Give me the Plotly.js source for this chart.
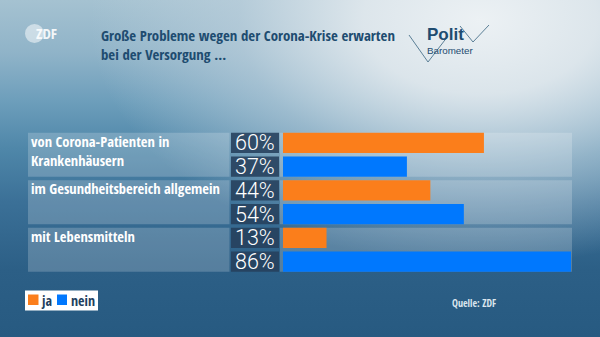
<!DOCTYPE html>
<html>
<head>
<meta charset="utf-8">
<script src="https://cdn.plot.ly/plotly-3.0.1.min.js"></script>
<style>
  html, body { margin: 0; padding: 0; }
  body {
    width: 600px; height: 337px; overflow: hidden;
    background:
      radial-gradient(ellipse 390px 245px at 80% 6%, rgba(236,241,244,1) 0%, rgba(224,232,237,0.95) 30%, rgba(192,210,222,0.6) 62%, rgba(150,185,205,0) 100%),
      linear-gradient(180deg, #a5c2d1 0%, #8fb3c8 16%, #6d9ebb 30%, #4f87a9 44%, #3b7097 60%, #2c5f86 80%, #275a81 100%);
  }
  #chart { width: 600px; height: 337px; }
</style>
</head>
<body>
<div id="chart"></div>
<script>
// ---- data ----
const items = ["von Corona-Patienten in<br>Krankenhäusern", "im Gesundheitsbereich allgemein", "mit Lebensmitteln"];
const seriesNames = ["ja", "nein"];
const ja = [60, 44, 13];
const nein = [37, 54, 86];
const titleText = "Große Probleme wegen der Corona-Krise erwarten<br>bei der Versorgung ...";
const sourceText = "Quelle: ZDF";

// ---- styling ----
const W = 600, H = 337;
const orange = "#fb7e1b", blue = "#0078fe";
const condensed = "'Open Sans Condensed', 'Roboto Condensed', sans-serif";
const px = x => x / W;
const py = y => 1 - y / H;

const rowKeys = [];
items.forEach(it => { rowKeys.push(it + " | ja"); rowKeys.push(it + " | nein"); });

const barW = 0.86;
const traces = [
  { type: "bar", orientation: "h", name: seriesNames[0], x: ja, y: items.map(it => it + " | ja"),
    marker: { color: orange }, width: barW, hoverinfo: "x+name" },
  { type: "bar", orientation: "h", name: seriesNames[1], x: nein, y: items.map(it => it + " | nein"),
    marker: { color: blue }, width: barW, hoverinfo: "x+name" }
];

const shapes = [];
const annotations = [];
const half = barW / 2;

items.forEach((it, i) => {
  const top = 2 * i - half, bot = 2 * i + 1 + half;
  shapes.push({ type: "rect", xref: "paper", yref: "y", x0: px(28), x1: px(229.5), y0: top, y1: bot,
    fillcolor: "rgba(255,255,255,0.2)", line: { width: 0 }, layer: "below" });
  shapes.push({ type: "rect", xref: "paper", yref: "y", x0: px(280), x1: px(572), y0: top, y1: bot,
    fillcolor: "rgba(255,255,255,0.2)", line: { width: 0 }, layer: "below" });
  annotations.push({ xref: "paper", yref: "y", x: px(30), y: top, xanchor: "left", yanchor: "top",
    yshift: 2, borderpad: 0, align: "left", showarrow: false, text: it,
    font: { family: condensed, size: 14.5, color: "#ffffff", weight: 700 } });
  [[ja[i], 2 * i], [nein[i], 2 * i + 1]].forEach(([v, r]) => {
    shapes.push({ type: "rect", xref: "paper", yref: "y", x0: px(231), x1: px(279), y0: r - half, y1: r + half,
      fillcolor: "rgba(38,64,92,0.88)", line: { width: 0 }, layer: "below" });
    annotations.push({ xref: "paper", yref: "y", x: px(254.5), y: r, xanchor: "center", yanchor: "middle",
      showarrow: false, text: v + "%",
      font: { family: "Roboto, 'Liberation Sans', sans-serif", size: 21.5, color: "#ffffff", weight: 300 } });
  });
});

// title
annotations.push({ xref: "paper", yref: "paper", x: px(99), y: py(22.5), xanchor: "left", yanchor: "top",
  align: "left", showarrow: false, text: titleText,
  font: { family: condensed, size: 14.8, color: "#1e4c70", weight: 700 } });

// ZDF logo
shapes.push({ type: "circle", xref: "paper", yref: "paper", x0: px(25), x1: px(44), y0: py(43), y1: py(24),
  fillcolor: "rgba(255,255,255,0.5)", line: { width: 0 } });
annotations.push({ xref: "paper", yref: "paper", x: px(34), y: py(33), xanchor: "left", yanchor: "middle",
  showarrow: false, text: "ZDF", font: { family: condensed, size: 15, color: "rgba(255,255,255,0.9)", weight: 700 } });

// Polit Barometer logo
const pathPts = (pts) => "M" + pts.map(p => px(p[0]) + "," + py(p[1])).join(" L");
shapes.push({ type: "path", xref: "paper", yref: "paper", path: pathPts([[409, 35], [428, 62], [448, 36]]),
  line: { color: "#5b7f96", width: 1 } });
shapes.push({ type: "path", xref: "paper", yref: "paper", path: pathPts([[460, 26], [473, 42], [489, 25]]),
  line: { color: "#5b7f96", width: 1 } });
annotations.push({ xref: "paper", yref: "paper", x: px(426), y: py(34), xanchor: "left", yanchor: "middle",
  borderpad: 0, showarrow: false, text: "Polit", font: { family: "'Liberation Sans', Arial, sans-serif", size: 17, color: "#1e4c70", weight: 700 } });
annotations.push({ xref: "paper", yref: "paper", x: px(426), y: py(50.5), xanchor: "left", yanchor: "middle",
  borderpad: 0, showarrow: false, text: "Barometer", font: { family: "'Liberation Sans', Arial, sans-serif", size: 9.8, color: "#1e4c70" } });

// legend (drawn manually to match the compact original)
shapes.push({ type: "rect", xref: "paper", yref: "paper", x0: px(25), x1: px(98), y0: py(310.5), y1: py(290.5),
  fillcolor: "#ffffff", line: { width: 0 } });
shapes.push({ type: "rect", xref: "paper", yref: "paper", x0: px(28), x1: px(38.5), y0: py(305), y1: py(294.5),
  fillcolor: orange, line: { width: 0 } });
shapes.push({ type: "rect", xref: "paper", yref: "paper", x0: px(57), x1: px(67), y0: py(305), y1: py(294.5),
  fillcolor: blue, line: { width: 0 } });
annotations.push({ xref: "paper", yref: "paper", x: px(39.5), y: py(300.5), xanchor: "left", yanchor: "middle",
  showarrow: false, text: seriesNames[0], font: { family: condensed, size: 14, color: "#1e3f5e", weight: 700 } });
annotations.push({ xref: "paper", yref: "paper", x: px(68.5), y: py(300.5), xanchor: "left", yanchor: "middle",
  showarrow: false, text: seriesNames[1], font: { family: condensed, size: 14, color: "#1e3f5e", weight: 700 } });

// source
annotations.push({ xref: "paper", yref: "paper", x: px(498), y: py(303), xanchor: "right", yanchor: "middle",
  showarrow: false, text: sourceText, font: { family: condensed, size: 10, color: "#dbe6ee", weight: 700 } });

const layout = {
  width: W, height: H,
  margin: { l: 0, r: 0, t: 0, b: 0 },
  paper_bgcolor: "rgba(0,0,0,0)", plot_bgcolor: "rgba(0,0,0,0)",
  showlegend: false,
  barmode: "overlay",
  xaxis: { domain: [px(283), px(571)], range: [0, 86], visible: false, fixedrange: true },
  yaxis: { domain: [py(273.5), py(131)], type: "category", categoryorder: "array", categoryarray: rowKeys,
    range: [5.5, -0.5], visible: false, fixedrange: true },
  shapes: shapes,
  annotations: annotations
};

Plotly.newPlot("chart", traces, layout, { displayModeBar: false, staticPlot: true });
</script>
</body>
</html>
